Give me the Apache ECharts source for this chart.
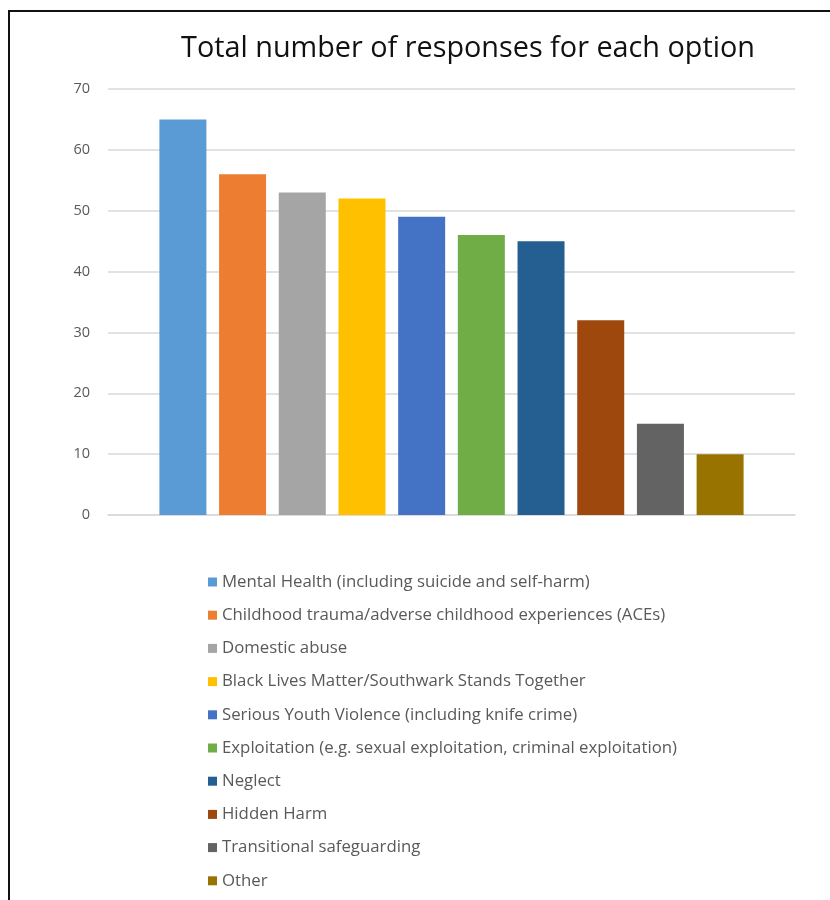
<!DOCTYPE html>
<html>
<head>
<meta charset="utf-8">
<script src="https://cdn.jsdelivr.net/npm/echarts@6/dist/echarts.min.js"></script>
<style>
html,body{margin:0;padding:0;background:#fff;}
#frame{position:absolute;left:8px;top:10px;width:900px;height:950px;border-left:2px solid #111;border-top:2px solid #111;}
#chart{position:absolute;left:0;top:0;width:830px;height:900px;}
</style>
</head>
<body>
<div id="frame"></div>
<div id="chart"></div>
<script>
const titleText = 'Total number of responses for each option';
const seriesNames = [
  'Mental Health (including suicide and self-harm)',
  'Childhood trauma/adverse childhood experiences (ACEs)',
  'Domestic abuse',
  'Black Lives Matter/Southwark Stands Together',
  'Serious Youth Violence (including knife crime)',
  'Exploitation (e.g. sexual exploitation, criminal exploitation)',
  'Neglect',
  'Hidden Harm',
  'Transitional safeguarding',
  'Other'
];
const seriesValues = [65, 56, 53, 52, 49, 46, 45, 32, 15, 10];
const seriesColors = ['#5B9BD5','#ED7D31','#A5A5A5','#FFC000','#4472C4','#70AD47','#255E91','#9E480E','#636363','#997300'];
const categories = ['Total'];
const yTicks = {min: 0, max: 70, interval: 10};

const chart = echarts.init(document.getElementById('chart'), null, {renderer: 'canvas'});
const font = '"Open Sans", "Noto Sans", sans-serif';
chart.setOption({
  backgroundColor: 'transparent',
  animation: false,
  title: {
    text: titleText,
    left: 463, top: 29, textAlign: 'center',
    textStyle: {fontFamily: font, fontSize: 28.8, fontWeight: 'normal', color: '#111'}
  },
  grid: {left: 108, right: 35, top: 89, bottom: 385},
  xAxis: {
    type: 'category', data: categories,
    axisLine: {show: true, lineStyle: {color: '#d9d9d9', width: 1.5}},
    axisTick: {show: false}, axisLabel: {show: false}
  },
  yAxis: {
    type: 'value', min: yTicks.min, max: yTicks.max, interval: yTicks.interval,
    axisLine: {show: false}, axisTick: {show: false},
    axisLabel: {margin: 18, color: '#595959', fontFamily: font, fontSize: 14.5},
    splitLine: {lineStyle: {color: '#d9d9d9', width: 1.5}}
  },
  legend: {
    orient: 'vertical', left: 203, top: 568,
    itemWidth: 9, itemHeight: 9, itemGap: 15.2, icon: 'rect',
    textStyle: {fontFamily: font, fontSize: 16.8, color: '#595959', lineHeight: 18},
    data: seriesNames
  },
  series: seriesNames.map((n, i) => ({
    name: n, type: 'bar', data: [seriesValues[i]],
    barWidth: 47, barGap: '27%',
    itemStyle: {color: seriesColors[i]}
  }))
});
</script>
</body>
</html>
